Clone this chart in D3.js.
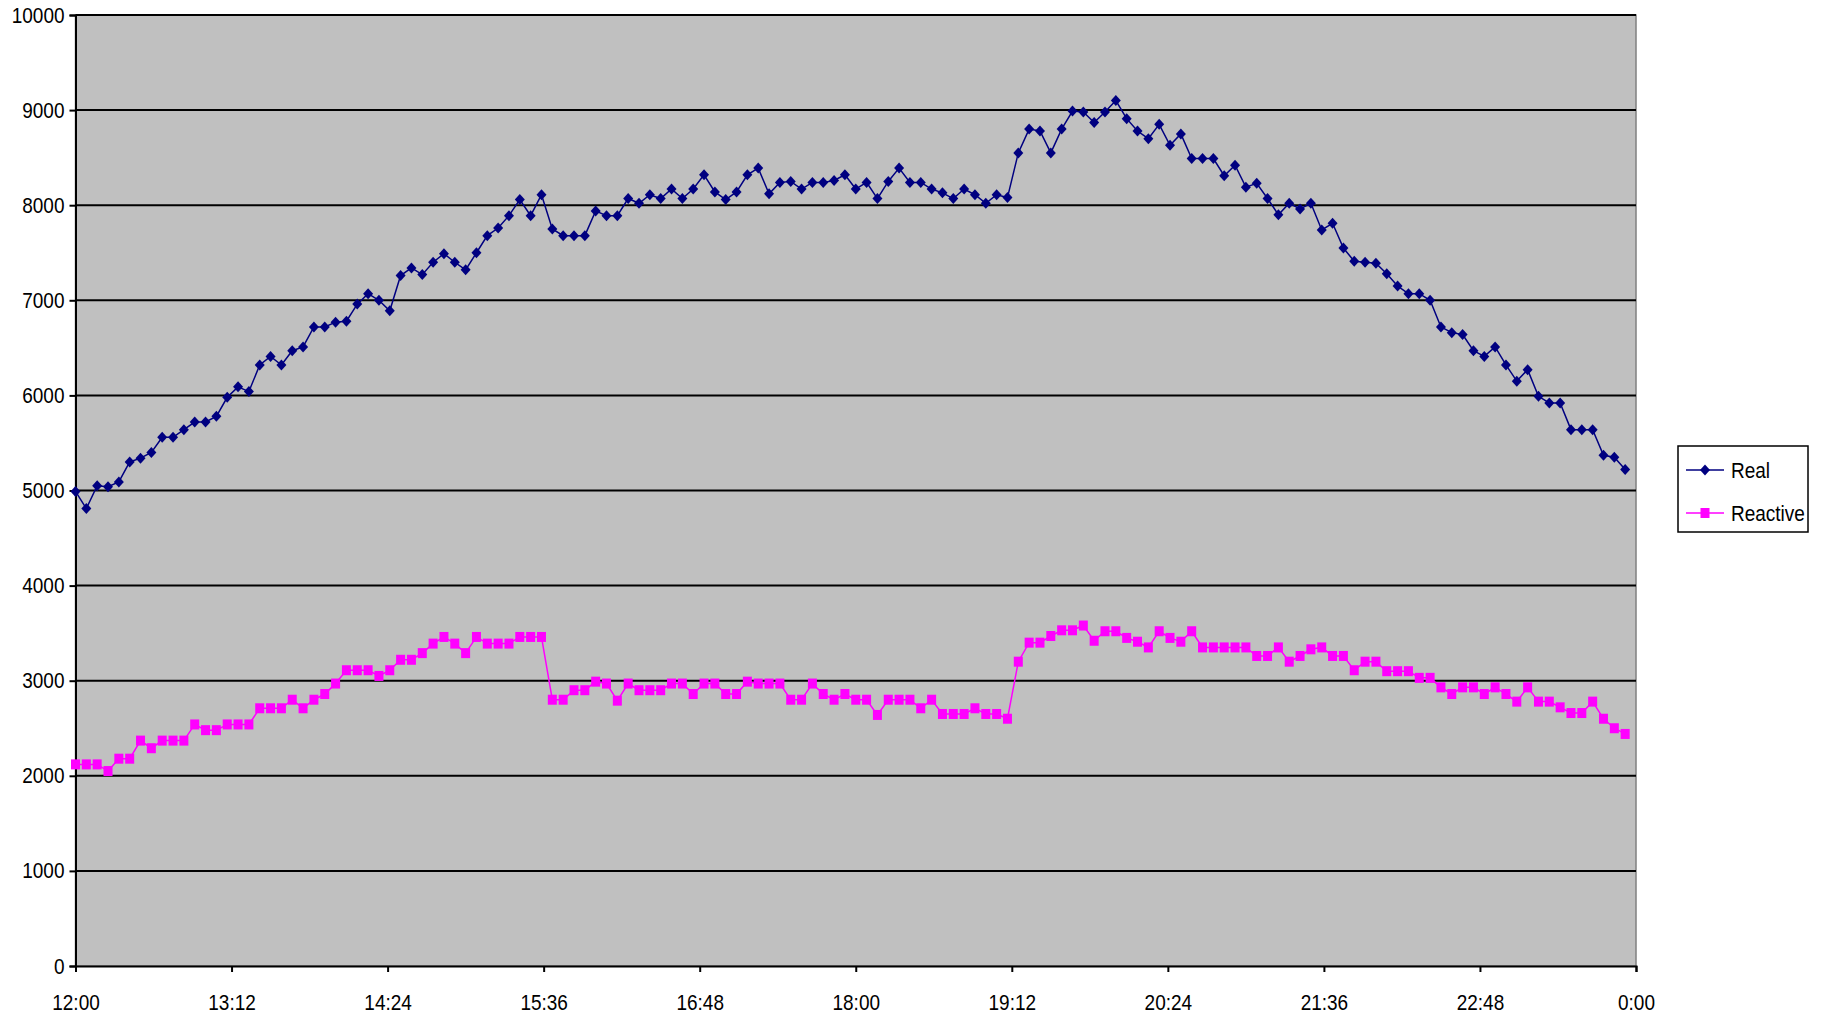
<!DOCTYPE html>
<html>
<head>
<meta charset="utf-8">
<script src="https://cdn.jsdelivr.net/npm/d3@7"></script>
<style>
  html, body { margin: 0; padding: 0; background: #ffffff; }
  svg { display: block; }
  text { font-family: "Liberation Sans", Arial, sans-serif; fill: #000; }
</style>
</head>
<body>
<svg id="chart" width="1823" height="1021"></svg>
<script>
// Power readings every 5 minutes from 12:00 to 23:55
const real = [
  4990, 4810, 5050, 5040, 5090, 5300, 5340, 5400, 5560, 5560, 5640, 5720, 5720, 5780, 5980, 6090, 6040, 6320, 6410, 6320, 6470, 6510, 6720, 6720, 6770,
  6780, 6960, 7070, 7000, 6890, 7260, 7340, 7270, 7400, 7490, 7400, 7320, 7500, 7680, 7760, 7890, 8060, 7890, 8110, 7750, 7680, 7680, 7680, 7940,
  7890, 7890, 8070, 8020, 8110, 8070, 8170, 8070, 8170, 8320, 8140, 8060, 8140, 8320, 8390, 8120, 8240, 8250, 8170, 8240, 8240, 8260, 8320, 8170,
  8240, 8070, 8250, 8390, 8240, 8240, 8170, 8130, 8070, 8170, 8110, 8020, 8110, 8080, 8550, 8800, 8780, 8550, 8800, 8990, 8980, 8870,
  8980, 9100, 8910, 8780, 8700, 8850, 8630, 8750, 8490, 8490, 8490, 8310, 8420, 8190, 8230, 8070, 7900, 8020, 7960, 8020, 7740, 7810, 7550, 7410, 7400,
  7390, 7280, 7150, 7070, 7070, 7000, 6720, 6660, 6640, 6470, 6410, 6510, 6320, 6150, 6270, 5990, 5920, 5920, 5640, 5640, 5640, 5370, 5350, 5220
];

const reactive = [
  2120, 2120, 2120, 2050, 2180, 2180, 2370, 2290, 2370, 2370, 2370, 2540, 2480, 2480, 2540, 2540, 2540, 2710, 2710, 2710, 2800, 2710, 2800, 2860, 2970,
  3110, 3110, 3110, 3050, 3110, 3220, 3220, 3290, 3390, 3460, 3390, 3290, 3460, 3390, 3390, 3390, 3460, 3460, 3460, 2800, 2800, 2900, 2900, 2990,
  2970, 2790, 2970, 2900, 2900, 2900, 2970, 2970, 2860, 2970, 2970, 2860, 2860, 2990, 2970, 2970, 2970, 2800, 2800, 2970, 2860, 2800, 2860, 2800,
  2800, 2640, 2800, 2800, 2800, 2710, 2800, 2650, 2650, 2650, 2710, 2650, 2650, 2600, 3200, 3400, 3400, 3470, 3530, 3530, 3580, 3420,
  3520, 3520, 3450, 3410, 3350, 3520, 3450, 3410, 3520, 3350, 3350, 3350, 3350, 3350, 3260, 3260, 3350, 3200, 3260, 3330, 3350, 3260, 3260, 3110, 3200,
  3200, 3100, 3100, 3100, 3030, 3030, 2930, 2860, 2930, 2930, 2860, 2930, 2860, 2780, 2930, 2780, 2780, 2720, 2660, 2660, 2780, 2600, 2500, 2440
];

// Minutes after 12:00 for each reading (5-minute interval)
const minutes = real.map((_, i) => i * 5);

const xTickValues = [0, 72, 144, 216, 288, 360, 432, 504, 576, 648, 720];
const xTickLabels = ["12:00", "13:12", "14:24", "15:36", "16:48", "18:00", "19:12", "20:24", "21:36", "22:48", "0:00"];
const yTickValues = [0, 1000, 2000, 3000, 4000, 5000, 6000, 7000, 8000, 9000, 10000];

const seriesNames = ["Real", "Reactive"];
const seriesColors = ["#000080", "#FF00FF"];

const svg = d3.select("#chart");
const plot = { left: 75.5, right: 1636, top: 15, bottom: 966 };
const fontSize = 19;
const stretch = 1.15; // labels are drawn slightly tall

const x = d3.scaleLinear().domain([0, 720]).range([plot.left, plot.right]);
const y = d3.scaleLinear().domain([0, 10000]).range([plot.bottom, plot.top]);

// Stretch a text vertically about a given centre line
const tall = (sel, cy) => sel.attr("transform", `translate(0,${cy}) scale(1,${stretch}) translate(0,${-cy})`);

// Plot area
svg.append("rect")
  .attr("x", plot.left).attr("y", plot.top)
  .attr("width", plot.right - plot.left).attr("height", plot.bottom - plot.top)
  .attr("fill", "#C0C0C0").attr("stroke", "#808080").attr("stroke-width", 1.5);

// Horizontal gridlines
svg.append("g").selectAll("line")
  .data(yTickValues.filter(v => v > 0))
  .join("line")
  .attr("x1", plot.left).attr("x2", plot.right)
  .attr("y1", d => y(d)).attr("y2", d => y(d))
  .attr("stroke", "#000").attr("stroke-width", 2);

// Y axis
const yAxis = svg.append("g")
  .attr("transform", `translate(${plot.left},0)`)
  .call(d3.axisLeft(y).tickValues(yTickValues).tickSize(6).tickPadding(5).tickFormat(d3.format("d")));
yAxis.select(".domain").attr("stroke", "#000").attr("stroke-width", 2);
yAxis.selectAll(".tick line").attr("stroke", "#000").attr("stroke-width", 2);
yAxis.selectAll("text").style("font-size", fontSize + "px").call(tall, 0);

// X axis
const xPad = 24;
const xAxis = svg.append("g")
  .attr("transform", `translate(0,${plot.bottom})`)
  .call(d3.axisBottom(x).tickValues(xTickValues).tickSize(6).tickPadding(xPad)
    .tickFormat((d, i) => xTickLabels[i]));
xAxis.select(".domain").attr("stroke", "#000").attr("stroke-width", 2);
xAxis.selectAll(".tick line").attr("stroke", "#000").attr("stroke-width", 2);
xAxis.selectAll("text").style("font-size", fontSize + "px").call(tall, 6 + xPad + 0.36 * fontSize);

// Series lines
const line = d3.line().x((d, i) => x(minutes[i])).y(d => y(d));

svg.append("path").datum(real)
  .attr("d", line).attr("fill", "none")
  .attr("stroke", seriesColors[0]).attr("stroke-width", 1.5);

svg.append("path").datum(reactive)
  .attr("d", line).attr("fill", "none")
  .attr("stroke", seriesColors[1]).attr("stroke-width", 1.5);

// Markers
const diamond = (cx, cy) => `M${cx},${cy - 5.5}L${cx + 5},${cy}L${cx},${cy + 5.5}L${cx - 5},${cy}Z`;

svg.append("g").selectAll("path")
  .data(real)
  .join("path")
  .attr("d", (d, i) => diamond(x(minutes[i]), y(d)))
  .attr("fill", seriesColors[0]);

svg.append("g").selectAll("rect")
  .data(reactive)
  .join("rect")
  .attr("x", (d, i) => x(minutes[i]) - 4.5)
  .attr("y", d => y(d) - 5)
  .attr("width", 9).attr("height", 10)
  .attr("fill", seriesColors[1]);

// Legend
const legend = svg.append("g");
legend.append("rect")
  .attr("x", 1678).attr("y", 446).attr("width", 130).attr("height", 86)
  .attr("fill", "#fff").attr("stroke", "#000").attr("stroke-width", 1.5);

const legendRows = [470, 513];
seriesNames.forEach((name, k) => {
  const ly = legendRows[k];
  legend.append("line")
    .attr("x1", 1686).attr("x2", 1724).attr("y1", ly).attr("y2", ly)
    .attr("stroke", seriesColors[k]).attr("stroke-width", 1.5);
  if (k === 0) {
    legend.append("path").attr("d", diamond(1705, ly)).attr("fill", seriesColors[k]);
  } else {
    legend.append("rect").attr("x", 1705 - 4.5).attr("y", ly - 5)
      .attr("width", 9).attr("height", 10).attr("fill", seriesColors[k]);
  }
  legend.append("text")
    .attr("x", 1731).attr("y", ly).attr("dy", "0.35em")
    .style("font-size", fontSize + "px")
    .call(tall, ly)
    .text(name);
});
</script>
</body>
</html>
